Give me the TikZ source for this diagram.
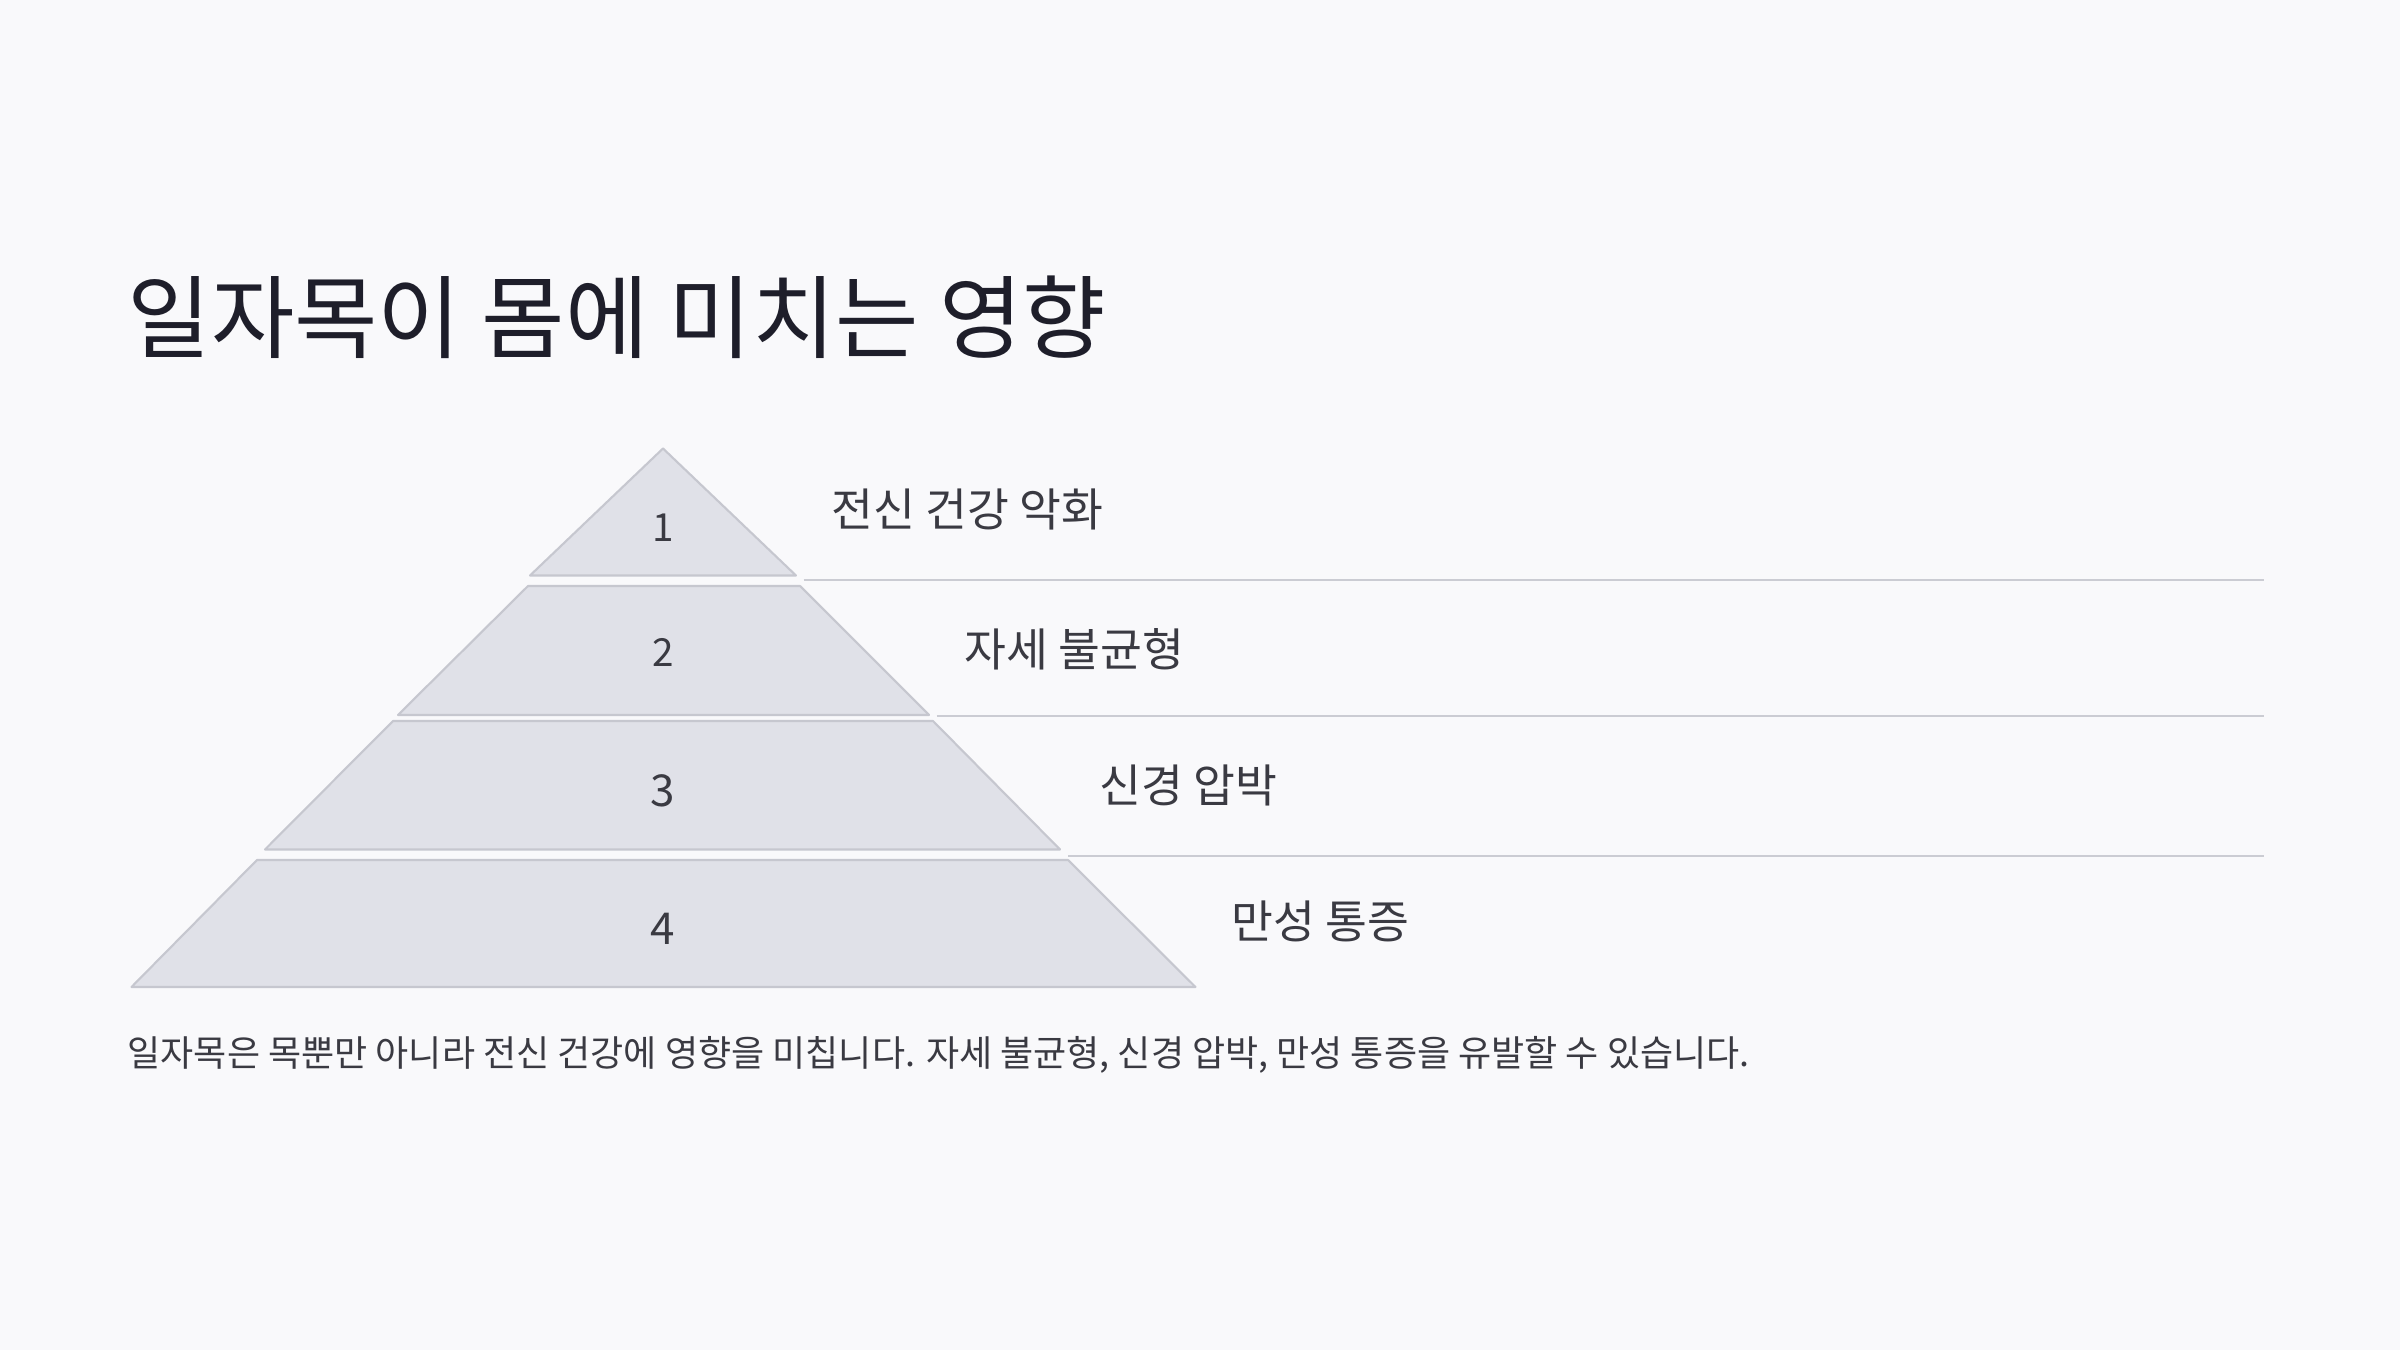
\documentclass[tikz,border=0pt]{standalone}
\usepackage{fontspec}
\setmainfont{Noto Sans CJK KR}
\usetikzlibrary{positioning}
\definecolor{pagebg}{HTML}{F9F9FB}
\definecolor{tierfill}{HTML}{E0E1E8}
\definecolor{tierline}{HTML}{C6C7CF}
\definecolor{ruleline}{HTML}{CBCCD3}
\definecolor{titleink}{HTML}{1E1E2A}
\definecolor{bodyink}{HTML}{3A3A42}

\begin{document}
\begin{tikzpicture}[
    tier/.style={fill=tierfill, draw=tierline, line width=0.6pt, line join=round},
    rule/.style={draw=ruleline, line width=0.6pt},
    num/.style={text=bodyink, inner sep=0pt},
    effect/.style={text=bodyink, font=\fontsize{12.95}{15}\selectfont, anchor=west, inner sep=0pt},
    heading/.style={text=titleink, font=\fontsize{25.8}{30}\selectfont, anchor=west, inner sep=0pt},
    note/.style={text=bodyink, font=\fontsize{10.25}{12}\selectfont, anchor=west, inner sep=0pt}
]

% Background
\fill[pagebg] (0,0) rectangle (24,13.5);
\useasboundingbox (0,0) rectangle (24,13.5);

% Title
\node[heading] (title) at (1.27,10.33) {일자목이 몸에 미치는 영향};

% Pyramid tiers
\draw[tier] (6.63,9.015) -- (7.96,7.745) -- (5.30,7.745) -- cycle;
\draw[tier] (5.28,7.64) -- (8.00,7.64) -- (9.29,6.35) -- (3.98,6.35) -- cycle;
\draw[tier] (3.93,6.29) -- (9.33,6.29) -- (10.60,5.005) -- (2.65,5.005) -- cycle;
\draw[tier] (2.57,4.90) -- (10.68,4.90) -- (11.955,3.63) -- (1.315,3.63) -- cycle;

% Numbers
\node[num, font=\fontsize{11}{13}\selectfont] (n1) at (6.63,8.22) {1};
\node[num, font=\fontsize{11}{13}\selectfont] (n2) at (6.63,6.98) {2};
\node[num, font=\fontsize{12.5}{14}\selectfont] (n3) at (6.63,5.59) {3};
\node[num, font=\fontsize{12.5}{14}\selectfont] (n4) at (6.63,4.21) {4};

% Effects
\node[effect] (body) at (8.31,8.403) {전신 건강 악화};
\node[effect] (posture) at (9.64,7.01) {자세 불균형};
\node[effect] (nerve) at (10.99,5.65) {신경 압박};
\node[effect] (pain) at (12.306,4.286) {만성 통증};

% Separator lines
\coordinate (r1a) at (8.036,7.70);
\coordinate (r1b) at (22.64,7.70);
\coordinate (r2a) at (9.367,6.34);
\coordinate (r2b) at (22.64,6.34);
\coordinate (r3a) at (10.684,4.944);
\coordinate (r3b) at (22.64,4.944);
\draw[rule] (r1a) -- (r1b);
\draw[rule] (r2a) -- (r2b);
\draw[rule] (r3a) -- (r3b);

% Summary
\node[note] (summary) at (1.27,2.95) {일자목은 목뿐만 아니라 전신 건강에 영향을 미칩니다. 자세 불균형, 신경 압박, 만성 통증을 유발할 수 있습니다.};

\end{tikzpicture}
\end{document}
